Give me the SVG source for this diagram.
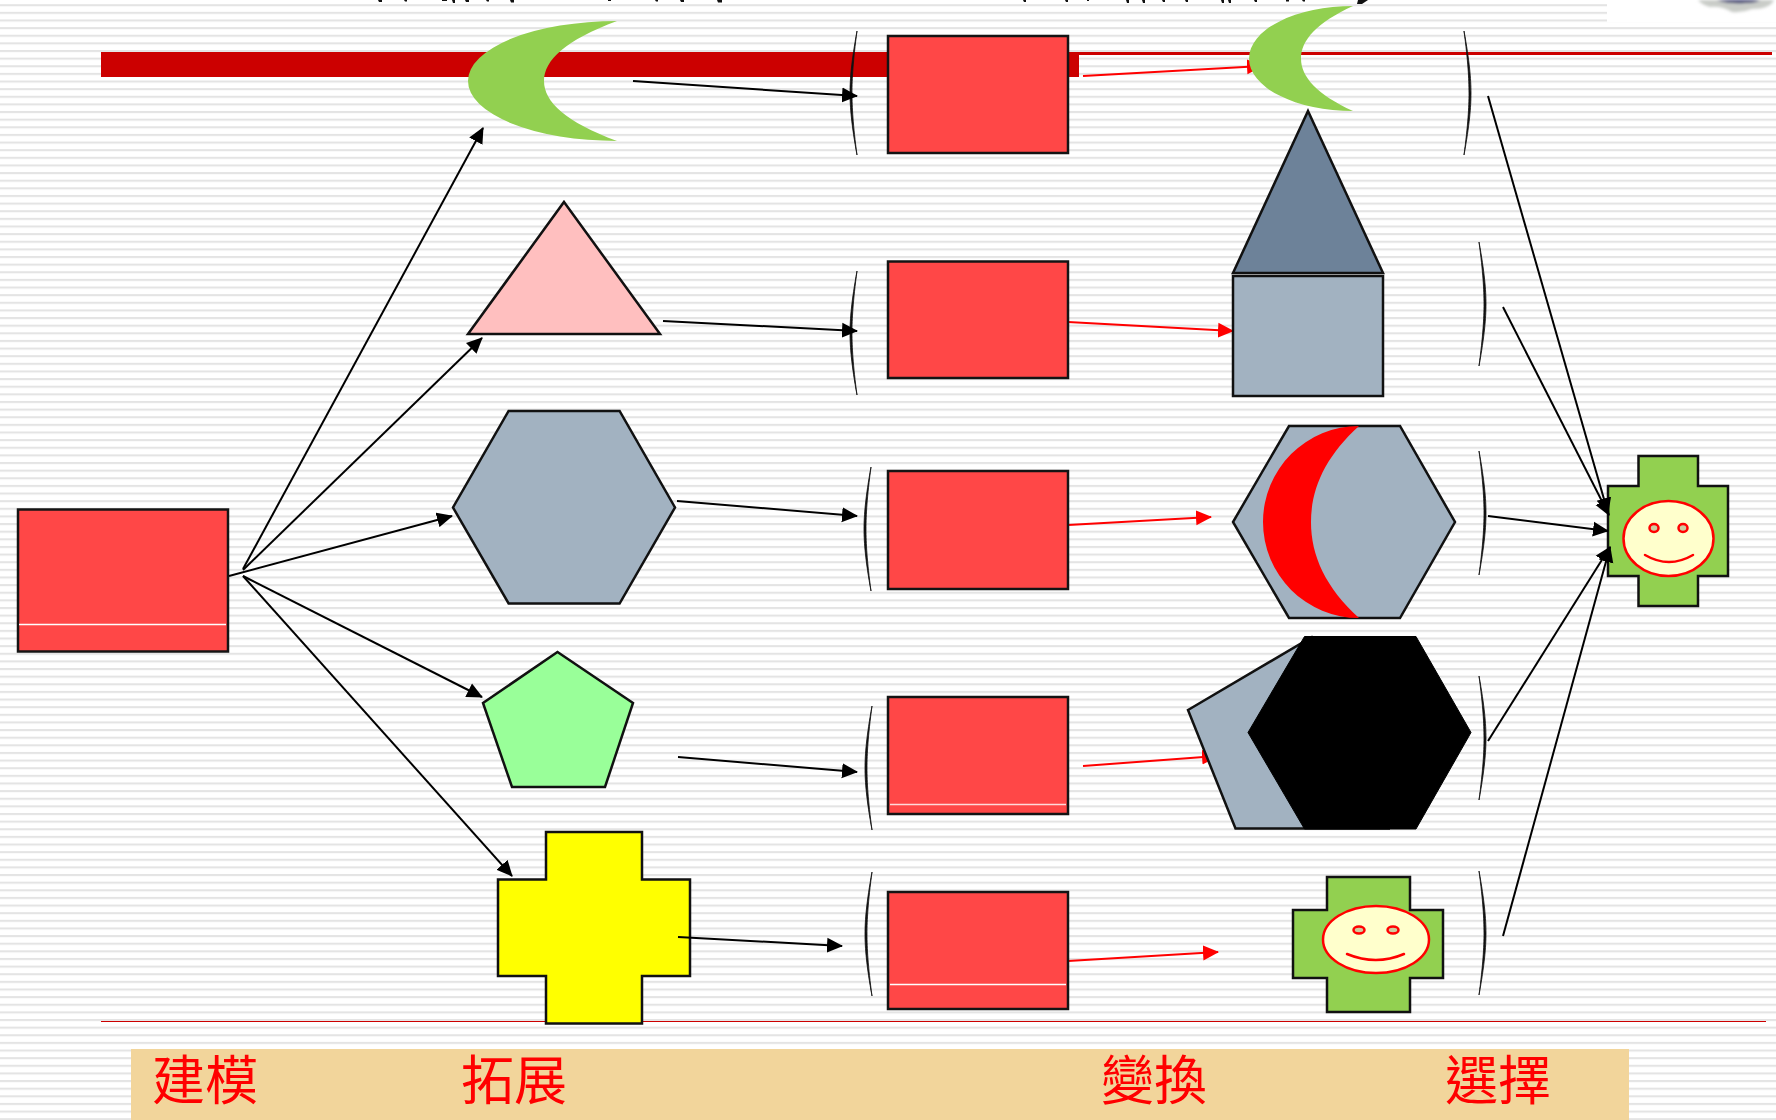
<svg xmlns="http://www.w3.org/2000/svg" width="1776" height="1120" viewBox="0 0 1776 1120">
<style>
.box{fill:#ff4747;stroke:#141414;stroke-width:2.5}
.gloss{stroke:#fff;stroke-width:1.5;fill:none}
.shape{stroke:#111;stroke-width:2.5;stroke-linejoin:miter}
.steel{fill:#a2b2c1}
.leaf{fill:#92d050}
.face{fill:#ffffcc;stroke:#ff0000;stroke-width:2.5}
.eye{fill:#cdcca0;stroke:#ff0000;stroke-width:2.5}
.smile{fill:none;stroke:#ff0000;stroke-width:2.5;stroke-linecap:round}
.bk{fill:none;stroke:#000;stroke-width:2;marker-end:url(#hb)}
.rd{fill:none;stroke:#ff0000;stroke-width:2;marker-end:url(#hr)}
.lbl{font-family:"Noto Sans CJK TC","Noto Sans CJK SC",sans-serif;font-size:53px;fill:#ff0000;font-weight:400}
.brk{fill:#111;stroke:#111;stroke-width:0.8}
</style>
<defs>
<pattern id="stripes" patternUnits="userSpaceOnUse" width="40" height="7.63" patternTransform="translate(0,4.2)">
<rect width="40" height="2.1" fill="#e4e4e4"/>
</pattern>
<filter id="soft" x="-10%" y="-30%" width="120%" height="160%"><feGaussianBlur stdDeviation="1.5"/></filter>
<marker id="hb" markerUnits="userSpaceOnUse" markerWidth="16" markerHeight="16" viewBox="0 0 16 16" refX="15" refY="8" orient="auto"><path d="M0,0.5L16,8L0,15.5Z" fill="#000"/></marker>
<marker id="hr" markerUnits="userSpaceOnUse" markerWidth="16" markerHeight="16" viewBox="0 0 16 16" refX="15" refY="8" orient="auto"><path d="M0,0.5L16,8L0,15.5Z" fill="#ff0000"/></marker>
<path id="bl" class="brk" d="M7,0C1.5,30 0,48 0,62C0,76 1.5,94 7,124C3,94 2,76 2,62C2,48 3,30 7,0Z"/>
<path id="br" class="brk" d="M0,0C5.5,30 7,48 7,62C7,76 5.5,94 0,124C4,94 5,76 5,62C5,48 4,30 0,0Z"/>
</defs>
<rect id="background" width="1776" height="1120" fill="#fff"/>
<rect width="1776" height="1120" fill="url(#stripes)"/>
<g id="corner">
<rect x="1607" y="0" width="169" height="22" fill="#fff"/>
<g filter="url(#soft)">
<path d="M1698,0H1774Q1770,9 1752,9Q1742,13 1732,12Q1722,6 1710,7Q1702,5 1698,0Z" fill="#c9ccc8"/>
<path d="M1717,0H1760Q1756,3 1745,3Q1728,4 1717,0Z" fill="#2a2f6a"/>
</g>
</g>
<path id="clipped-title" d="M378,0h4v2h-3zM404,0h3v1.5h-2zM442,0h5v1h-5zM452,0h3v3h-2zM465,0h4v2h-3zM486,0h3v1.5h-2zM510,0h4v2.5h-3zM608,0h3v1h-3zM655,0h3v1.5h-2zM680,0h4v2h-3zM717,0h5v2.5h-4zM1023,0h3v2h-2zM1065,0h3v2h-2zM1087,0h2v1h-2zM1126,0h3v3h-2zM1142,0h3v3h-2zM1162,0h3v2h-2zM1185,0h3v2h-2zM1221,0h3v3h-2zM1228,0h3v3h-2zM1254,0h3v2h-2zM1286,0h3v1.5h-3zM1302,0h3v1.5h-2zM1358,0h10l-6,4h-5z" fill="#111"/>
<g id="rules">
<rect x="101" y="52" width="978" height="25" fill="#cc0000"/>
<rect x="1079" y="52" width="693" height="3" fill="#cc0000"/>
<rect x="101" y="1021" width="1665" height="1" fill="#cc0000"/>
</g>
<g id="label-band"><rect x="131" y="1049" width="1498" height="71" fill="#f2d59b"/></g>
<g id="connectors-red">
<path class="rd" d="M1083,76L1262,66"/>
<path class="rd" d="M1068,322L1233,331"/>
<path class="rd" d="M1068,525L1211,517"/>
<path class="rd" d="M1083,766L1217,756"/>
<path class="rd" d="M1068,961L1218,952"/>
</g>
<g id="source"><rect class="box" x="18" y="509.500" width="210" height="142"/><path class="gloss" d="M19,624.500H226"/></g>
<g id="moon-1"><path class="leaf" d="M617,21A149,60 0 0 0 617,141C566,122 544,102 544,81C544,60 566,40 617,21Z"/></g>
<g id="triangle-1"><path class="shape" fill="#ffbfbf" d="M564,202L660,334H468Z"/></g>
<g id="hexagon-1"><path class="shape steel" d="M508.6,411H619.6L675,507.5L619.6,603.5H508.6L453,507.5Z"/></g>
<g id="pentagon-1"><path class="shape" fill="#99ff99" d="M557.500,652L633,703L605,787H512L483,703Z"/></g>
<g id="cross-1"><path class="shape" fill="#ffff00" d="M546,832H642V879.500H690V976H642V1023.500H546V976H498V879.500H546Z"/></g>
<g id="box-1"><rect class="box" x="888" y="36" width="180" height="117"/></g>
<g id="box-2"><rect class="box" x="888" y="261.500" width="180" height="116.500"/></g>
<g id="box-3"><rect class="box" x="888" y="471" width="180" height="118"/></g>
<g id="box-4"><rect class="box" x="888" y="697" width="180" height="117"/><path class="gloss" stroke-opacity="0.8" d="M890,804.500H1066"/></g>
<g id="box-5"><rect class="box" x="888" y="892" width="180" height="117"/><path class="gloss" d="M890,984.500H1066"/></g>
<g id="moon-2"><path class="leaf" d="M1353,6A104,52.500 0 0 0 1353,111C1317,94.400 1301,77 1301,58.500C1301,40 1317,22.600 1353,6Z"/></g>
<g id="tower"><path class="shape" fill="#6d8299" d="M1308,111L1383,273H1233Z"/><rect class="shape steel" x="1233" y="276" width="150" height="120"/></g>
<g id="hexagon-moon"><path class="shape steel" d="M1289,426H1400L1455,522L1400,618H1289L1233,522Z"/><path fill="#ff0000" d="M1359,426A96,96 0 0 0 1359,618C1325.500,587.600 1311,555.600 1311,522C1311,488.400 1325.500,456.400 1359,426Z"/></g>
<g id="hexagon-black"><path class="shape steel" d="M1188,710L1312,637L1425,710L1389,828.500H1235.500Z"/><path fill="#000" stroke="#000" stroke-width="1" d="M1304.500,636.500H1416L1471,732.500L1416,829H1304.500L1248,732.500Z"/></g>
<g id="cross-face"><path class="shape leaf" d="M1327,877H1410V910H1443V978H1410V1012H1327V978H1293V910H1327Z"/><ellipse class="face" cx="1376" cy="939.500" rx="53" ry="33.500"/><ellipse class="eye" cx="1359" cy="930" rx="5.500" ry="3.500"/><ellipse class="eye" cx="1393" cy="930" rx="5.500" ry="3.500"/><path class="smile" d="M1347,954Q1376,966 1404,954"/></g>
<g id="result"><path class="shape leaf" d="M1638.500,456H1698V486H1728V576H1698V606H1638.500V576H1608V486H1638.500Z"/><ellipse class="face" cx="1668.500" cy="538.500" rx="45" ry="37.500"/><ellipse class="eye" cx="1654" cy="528" rx="4.500" ry="4"/><ellipse class="eye" cx="1683" cy="528" rx="4.500" ry="4"/><path class="smile" d="M1645,555Q1669,569 1693,555"/></g>
<g id="connectors-black">
<use href="#bl" x="850" y="31"/><use href="#bl" x="850" y="271"/><use href="#bl" x="864" y="467"/><use href="#bl" x="865" y="706"/><use href="#bl" x="865" y="872"/>
<use href="#br" x="1464" y="31"/><use href="#br" x="1479" y="242"/><use href="#br" x="1479" y="451"/><use href="#br" x="1479" y="676"/><use href="#br" x="1479" y="871"/>
<path class="bk" d="M243,569L483,128"/>
<path class="bk" d="M243,570L482,338"/>
<path class="bk" d="M229,576L452,516"/>
<path class="bk" d="M243,576L482,697"/>
<path class="bk" d="M243,576L512,876"/>
<path class="bk" d="M633,81L857,96"/>
<path class="bk" d="M663,321L857,331"/>
<path class="bk" d="M677,501L857,516"/>
<path class="bk" d="M678,757L857,772"/>
<path class="bk" d="M678,937L842,946"/>
<path class="bk" d="M1488,96L1608,513"/>
<path class="bk" d="M1503,307L1609,515"/>
<path class="bk" d="M1488,516L1608,531"/>
<path class="bk" d="M1488,741L1610,547"/>
<path class="bk" d="M1503,936L1610,547"/>
</g>
<g id="labels">
<text class="lbl" x="152" y="1100">建模</text>
<text class="lbl" x="461" y="1100">拓展</text>
<text class="lbl" x="1101" y="1100">變換</text>
<text class="lbl" x="1445" y="1100">選擇</text>
</g>
</svg>
